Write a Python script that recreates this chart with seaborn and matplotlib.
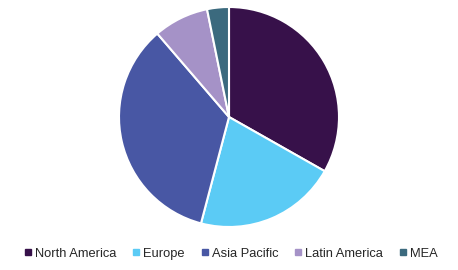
import matplotlib
matplotlib.use("Agg")
import matplotlib.pyplot as plt
from matplotlib.lines import Line2D
import seaborn as sns

regions = ["North America", "Europe", "Asia Pacific", "Latin America", "MEA"]
shares = [33.2, 20.9, 34.6, 8.1, 3.2]
colors = ["#37114a", "#5bcbf5", "#4857a4", "#a592c7", "#3b6a7e"]

sns.set_theme(style="white")
plt.rcParams['font.family'] = ['Liberation Sans', 'DejaVu Sans']
palette = sns.color_palette(colors)

fig = plt.figure(figsize=(4.58, 2.70), dpi=100)
W, H = 458, 270
cx, cy, r = 229, 117, 110
ax = fig.add_axes([(cx - r) / W, (H - cy - r) / H, 2 * r / W, 2 * r / H])
ax.pie(shares, colors=palette, startangle=90, counterclock=False,
       wedgeprops=dict(edgecolor="white", linewidth=1.5))
ax.set_xlim(-1.0, 1.0)
ax.set_ylim(-1.0, 1.0)
ax.set_aspect("equal")
ax.axis("off")

handles = [Line2D([0], [0], marker="s", linestyle="", markersize=5,
                  markerfacecolor=c, markeredgecolor=c) for c in palette]
fig.legend(handles, regions, loc="center", bbox_to_anchor=(0.505, (H - 254) / H),
           ncol=5, frameon=False, fontsize=9.3, handlelength=0.5,
           handletextpad=0.3, columnspacing=1.3, borderaxespad=0)

fig.savefig("out.png", dpi=100)
